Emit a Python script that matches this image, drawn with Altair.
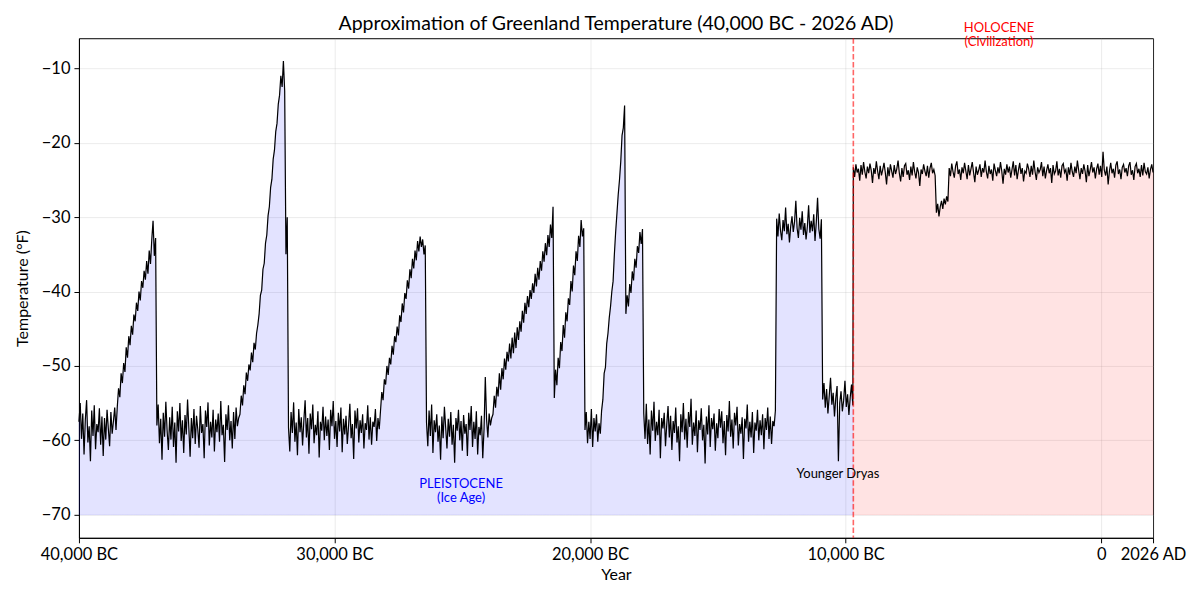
import numpy as np
import pandas as pd
import altair as alt

FONT = "Lato"

# ---- data: (start year, end year) of each stretch, negative = BC ----
seg_spans = [
    (-40000, -38550),
    (-38500, -37000),
    (-36950, -33800),
    (-33750, -31850),
    (-31800, -28250),
    (-28200, -26450),
    (-26400, -23850),
    (-23800, -21400),
    (-21350, -20250),
    (-20200, -19600),
    (-19550, -17950),
    (-17900, -12750),
    (-12700, -10950),
    (-10900, -9720),
    (-9700, -6500),
    (-6450, -6000),
    (-5950, 2026),
]

temps_a = [-57.5, -55.0, -59.8, -56.4, -61.9, -57.2, -54.6, -60.3, -58.1, -62.8, -56.0, -59.4, -55.3, -61.2, -57.8,
           -58.9, -55.7, -60.6, -56.8, -62.1, -57.0, -59.9, -55.9, -58.4, -60.8, -56.2, -59.1, -57.4, -55.6, -58.6]
temps_b = [-55.5, -53.0, -54.2, -51.0, -52.3, -49.6, -50.8, -47.5, -48.9, -46.0, -47.2, -44.6, -45.8, -43.1, -44.0,
           -41.5, -42.6, -40.0, -41.2, -38.6, -39.5, -37.2, -38.4, -35.9, -37.6, -34.5, -36.3, -33.0, -30.5, -35.2, -32.8]
temps_c = [-58.0, -55.2, -60.4, -57.1, -62.6, -56.3, -59.5, -54.8, -58.7, -61.3, -56.9, -59.9, -55.5, -60.9, -57.6,
           -63.0, -56.1, -58.8, -55.0, -60.1, -57.3, -61.7, -56.6, -59.2, -54.5, -58.3, -62.2, -57.0, -59.7, -55.8,
           -60.5, -56.7, -58.5, -61.0, -55.4, -59.0, -57.8, -62.4, -56.0, -58.2, -54.9, -60.7, -57.5, -59.6, -55.9,
           -61.5, -57.2, -58.9, -56.4, -60.2, -54.7, -59.3, -57.9, -62.9, -56.5, -58.6, -55.3, -60.0, -57.4, -61.1,
           -56.2, -59.8, -55.6, -58.1]
temps_d = [-57.0, -56.5, -54.0, -55.3, -52.6, -53.8, -50.9, -52.0, -49.8, -50.6, -48.2, -49.5, -46.9, -47.8, -45.6,
           -44.5, -43.0, -40.5, -39.8, -37.0, -36.2, -33.5, -32.4, -29.8, -28.6, -26.0, -24.9, -22.2, -21.0, -18.5,
           -17.4, -14.8, -13.6, -11.0, -12.5, -9.0, -13.0, -35.0, -30.0]
temps_e = [-58.3, -61.5, -56.2, -59.0, -54.9, -60.2, -57.6, -62.0, -55.8, -58.9, -56.9, -60.7, -57.3, -54.6, -59.6,
           -57.0, -61.8, -56.4, -58.5, -55.2, -60.4, -57.9, -59.3, -56.1, -62.3, -57.5, -58.7, -55.5, -60.0, -56.8,
           -59.4, -57.2, -61.3, -55.9, -58.1, -54.7, -59.8, -57.4, -60.9, -56.3, -58.8, -55.6, -61.6, -57.1, -59.2,
           -56.7, -60.5, -58.0, -55.1, -59.7, -57.8, -62.5, -56.0, -58.4, -55.7, -60.3, -57.3, -59.0, -56.5, -61.1,
           -57.7, -58.6, -55.3, -59.9, -56.9, -60.6, -57.5, -58.2, -55.8, -60.1, -57.0, -58.5]
temps_f = [-56.0, -53.5, -54.6, -51.8, -52.5, -50.0, -51.2, -48.9, -49.8, -47.3, -48.5, -46.0, -46.8, -44.7, -45.9,
           -43.2, -44.1, -41.6, -42.8, -40.2, -41.0, -38.5, -39.6, -37.0, -38.2, -35.6, -36.9, -34.5, -35.8, -33.2,
           -34.6, -32.6, -34.0, -33.0, -35.0, -33.8]
temps_g = [-57.6, -60.8, -56.0, -59.4, -55.2, -61.7, -57.3, -58.9, -56.5, -60.2, -58.0, -62.6, -56.8, -59.7, -55.5,
           -58.3, -61.1, -57.1, -59.5, -56.2, -60.6, -57.9, -63.0, -57.0, -58.7, -55.9, -60.0, -57.4, -61.4, -56.6,
           -59.1, -57.8, -62.1, -56.3, -58.6, -55.4, -60.9, -57.5, -59.8, -56.1, -61.9, -58.2, -59.3, -56.7, -62.4,
           -58.5, -51.5, -57.2, -59.6, -56.4, -58.0, -57.0]
temps_h = [-56.5, -54.0, -55.6, -52.8, -54.1, -51.0, -53.2, -50.3, -51.8, -49.0, -50.5, -48.1, -49.4, -47.0, -49.0,
           -46.2, -48.3, -45.5, -47.6, -44.8, -46.5, -44.0, -45.4, -42.6, -44.2, -41.5, -43.0, -40.6, -42.1, -39.8,
           -41.0, -38.9, -40.2, -37.6, -39.3, -36.8, -38.4, -35.9, -37.2, -34.6, -36.0, -33.5, -35.1, -32.4, -34.0,
           -31.0, -32.8, -28.6, -54.3]
temps_i = [-50.5, -52.6, -48.9, -50.3, -46.8, -48.0, -44.5, -46.2, -42.8, -44.0, -40.9, -41.8, -38.6, -40.0, -36.5,
           -37.8, -34.6, -35.9, -32.5, -34.0, -30.4, -32.6, -31.5]
temps_j = [-58.6, -56.2, -60.4, -57.5, -59.8, -55.8, -60.9, -57.0, -58.8, -56.5, -60.2, -57.7, -59.1]
temps_k = [-56.0, -54.5, -51.0, -50.2, -47.0, -45.6, -43.5, -42.0, -40.0, -38.6, -35.0, -32.0, -29.5, -27.0, -25.0,
           -22.5, -19.0, -18.0, -15.0, -43.0, -40.5, -42.0, -39.0, -40.2, -37.3, -38.5, -35.6, -36.8, -33.9, -34.8,
           -32.0, -33.6, -31.6]
temps_l = [-56.4, -59.8, -55.1, -60.5, -57.2, -61.9, -56.0, -58.7, -54.8, -60.1, -57.5, -59.3, -55.9, -62.4, -57.0,
           -58.4, -56.3, -60.8, -57.8, -55.4, -59.6, -56.7, -61.3, -57.4, -59.0, -55.6, -60.3, -58.1, -62.8, -56.5,
           -58.9, -55.0, -59.9, -57.1, -61.0, -56.2, -58.2, -54.4, -60.6, -57.6, -59.4, -56.0, -61.6, -57.3, -58.6,
           -55.7, -60.0, -57.9, -63.1, -56.8, -59.2, -55.3, -60.9, -57.0, -58.5, -56.4, -61.4, -57.7, -59.7, -55.8,
           -58.3, -56.1, -60.4, -57.4, -62.0, -56.6, -58.8, -54.7, -59.5, -57.2, -61.1, -56.3, -58.0, -55.5, -60.7,
           -57.8, -59.1, -56.9, -62.5, -57.1, -58.4, -55.2, -60.2, -57.5, -59.6, -56.2, -61.7, -57.6, -58.7, -55.9,
           -60.0, -57.3, -59.3, -56.5, -61.2, -57.0, -58.6, -55.6, -59.8, -56.8, -60.5, -57.4, -58.1, -56.0]
temps_m = [-30.2, -32.6, -29.5, -31.8, -33.1, -30.4, -31.9, -28.7, -32.3, -30.9, -33.4, -31.2, -29.9, -32.0, -30.6,
           -27.8, -31.5, -32.8, -30.1, -31.7, -29.2, -32.4, -30.8, -33.0, -31.3, -28.4, -32.1, -30.5, -31.9, -29.6,
           -33.2, -30.7, -27.4, -31.6, -32.9, -30.3]
temps_n = [-54.5, -52.3, -55.6, -53.1, -56.4, -54.0, -51.6, -55.2, -53.6, -56.8, -54.3, -52.7, -62.8, -55.0, -53.4,
           -56.1, -54.6, -52.0, -55.5, -53.8, -56.6, -54.2, -52.5, -55.3]
temps_o1 = [-23.3, -24.6, -22.9, -24.0, -23.5, -25.1, -23.0, -24.3, -22.6, -23.9, -24.8, -23.2, -24.1, -22.8, -23.7,
            -25.4, -23.4, -24.2, -22.5, -23.8, -24.9, -23.1, -24.4, -23.6, -22.7, -24.0, -25.6, -23.3, -24.5, -22.9,
            -23.8, -24.7, -23.0, -24.2, -23.5, -22.4, -24.1, -25.2, -23.4, -24.6, -23.1, -22.8, -24.3, -23.7, -25.0,
            -23.2, -24.4, -22.6, -23.9, -24.8, -23.3, -24.0, -25.8, -23.6, -24.2, -22.9, -23.8, -24.5, -23.1, -24.7,
            -23.4, -22.7, -24.1, -23.6, -24.4]
temps_o2 = [-29.4, -28.2, -29.9, -28.6, -27.8, -28.9, -27.5, -28.3, -27.2, -27.9]
temps_o3 = [-23.4, -24.5, -22.8, -23.9, -24.7, -23.1, -22.5, -24.2, -23.6, -25.0, -23.3, -24.1, -22.7, -23.8, -24.9,
            -23.0, -24.4, -23.5, -22.6, -24.0, -25.3, -23.2, -24.3, -23.7, -22.9, -24.6, -23.4, -24.0, -22.4, -23.9,
            -24.8, -23.1, -24.2, -23.6, -25.1, -22.8, -23.7, -24.5, -23.3, -24.1, -22.6, -23.8, -25.5, -23.5, -24.3,
            -22.9, -24.0, -23.2, -24.7, -23.6, -22.5, -24.4, -23.0, -24.9, -23.7, -22.7, -24.2, -23.4, -25.2, -23.8,
            -24.1, -22.8, -23.5, -24.6, -23.1, -24.3, -22.4, -23.9, -25.0, -23.3, -24.0, -23.6, -22.6, -24.5, -23.2,
            -24.8, -23.7, -22.9, -24.1, -23.4, -25.4, -23.0, -24.2, -23.8, -22.5, -24.4, -23.5, -24.7, -23.1, -22.8,
            -24.0, -23.6, -25.1, -23.3, -24.3, -22.7, -23.9, -24.6, -23.2, -24.1, -22.4, -23.7, -24.9, -23.4, -24.2,
            -22.9, -23.8, -25.3, -23.0, -24.5, -23.6, -22.6, -24.0, -23.3, -24.8, -23.5, -22.8, -24.3, -23.1, -24.6,
            -21.2, -23.7, -24.4, -23.2, -25.6, -23.8, -22.7, -24.1, -23.5, -24.7, -23.0, -22.5, -24.2, -23.6, -24.9,
            -23.3, -22.9, -24.0, -23.4, -24.5, -23.1, -22.6, -24.3, -23.7, -25.0, -23.2, -22.8, -24.1, -23.5, -24.6,
            -23.0, -24.4, -22.7, -23.9, -24.2, -23.3, -24.8, -23.6, -22.9, -24.0]

seg_temps = [temps_a, temps_b, temps_c, temps_d, temps_e, temps_f, temps_g, temps_h, temps_i,
             temps_j, temps_k, temps_l, temps_m, temps_n, temps_o1, temps_o2, temps_o3]

holocene_start = -9700
baseline_temp = -70

x_ticks = [-40000, -30000, -20000, -10000, 0, 2026]
y_ticks = [-70, -60, -50, -40, -30, -20, -10]

ann_labels = ["HOLOCENE", "(Civilization)", "PLEISTOCENE", "(Ice Age)", "Younger Dryas"]
ann_years = [-4000, -4000, -25050, -25050, -10300]
ann_temps = [-5.1, -7.0, -66.35, -68.3, -65.0]
ann_colors = ["red", "red", "blue", "blue", "black"]

# ---- build table ----
years, temps = [], []
for (s, e), vals in zip(seg_spans, seg_temps):
    years.extend(np.linspace(s, e, len(vals)).tolist())
    temps.extend(vals)
df = pd.DataFrame({"year": years, "temp": temps})
df["era"] = np.where(df["year"] >= holocene_start, "Holocene", "Pleistocene")

ann = pd.DataFrame({"label": ann_labels, "year": ann_years, "temp": ann_temps, "color": ann_colors})
vline = pd.DataFrame({"year": [holocene_start]})

x_scale = alt.Scale(domain=[-40000, 2026], nice=False, zero=False)
y_scale = alt.Scale(domain=[-73.1, -5.95], nice=False, zero=False)

label_expr = ("datum.value < 0 ? format(-datum.value, ',') + ' BC' : "
              "(datum.value == 0 ? '0' : datum.value + ' AD')")

x_axis = alt.Axis(values=x_ticks, labelExpr=label_expr, title="Year", grid=True,
                  labelOverlap=False, labelBound=False, labelFlush=False,
                  titleY=37, titleBaseline="middle")
y_axis = alt.Axis(values=y_ticks, title="Temperature (°F)", grid=True, labelOverlap=False,
                  titleX=-56, titleBaseline="middle", titleAngle=-90)

base = alt.Chart(df)

area_p = base.transform_filter(alt.datum.era == "Pleistocene").mark_area(
    fill="blue", fillOpacity=0.11, stroke="blue", strokeOpacity=0.08, strokeWidth=1
).encode(
    x=alt.X("year:Q", scale=x_scale, axis=x_axis),
    y=alt.Y("temp:Q", scale=y_scale, axis=y_axis),
    y2=alt.datum(baseline_temp),
)

area_h = base.transform_filter(alt.datum.era == "Holocene").mark_area(
    fill="red", fillOpacity=0.11, stroke="red", strokeOpacity=0.08, strokeWidth=1
).encode(
    x=alt.X("year:Q", scale=x_scale),
    y=alt.Y("temp:Q", scale=y_scale),
    y2=alt.datum(baseline_temp),
)

line = base.mark_line(color="black", strokeWidth=1.2).encode(
    x=alt.X("year:Q", scale=x_scale),
    y=alt.Y("temp:Q", scale=y_scale),
)

rule = alt.Chart(vline).mark_rule(color="red", opacity=0.6, strokeWidth=1.6, strokeDash=[5.5, 2.4]).encode(
    x=alt.X("year:Q", scale=x_scale),
)

texts = alt.Chart(ann).mark_text(font=FONT, fontSize=13, align="center", baseline="alphabetic").encode(
    x=alt.X("year:Q", scale=x_scale),
    y=alt.Y("temp:Q", scale=y_scale),
    text="label:N",
    color=alt.Color("color:N", scale=None),
)

chart = alt.layer(area_p, area_h, line, rule, texts).properties(
    width=1075,
    height=500,
    padding={"left": 71, "top": 30, "right": 39, "bottom": 54},
    autosize=alt.AutoSizeParams(type="none"),
    title=alt.TitleParams(
        "Approximation of Greenland Temperature (40,000 BC - 2026 AD)",
        font=FONT, fontSize=19.5, fontWeight="normal", color="black",
        anchor="middle", offset=8, dy=21,
    ),
).configure_view(
    stroke="black", strokeWidth=1
).configure_axis(
    zindex=1,
    gridColor="#b0b0b0", gridOpacity=0.3, gridWidth=0.8,
    domainColor="black", domainWidth=1,
    tickColor="black", tickSize=5, tickWidth=1,
    labelFont=FONT, labelFontSize=16.5, labelColor="black", labelPadding=4,
    titleFont=FONT, titleFontSize=16, titleFontWeight="normal", titleColor="black",
)

chart.save("out.html", embed_options={"renderer": "svg", "actions": False})
